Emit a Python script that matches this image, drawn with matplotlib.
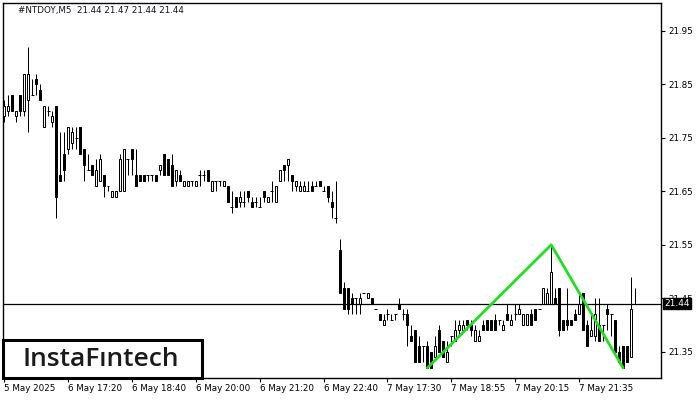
import matplotlib
matplotlib.use("Agg")
import matplotlib.pyplot as plt
from matplotlib.patches import Rectangle

opens = [21.79,21.80,21.83,21.79,21.83,21.80,21.82,21.83,21.86,21.84,21.77,21.80,21.78,21.81,
         21.68,21.72,21.73,21.74,21.75,21.77,21.73,21.69,21.70,21.66,21.67,21.68,21.66,21.64,21.64,
         21.65,21.65,21.71,21.73,21.68,21.68,21.68,21.68,21.68,21.68,21.69,21.72,21.71,21.70,21.67,
         21.68,21.66,21.66,21.67,21.66,21.68,21.68,21.69,21.65,21.67,21.67,21.66,21.66,21.62,21.64,
         21.63,21.63,21.65,21.63,21.63,21.62,21.65,21.63,21.65,21.63,21.67,21.70,21.70,21.68,21.66,
         21.65,21.65,21.65,21.66,21.66,21.67,21.65,21.66,21.63,21.60,
         21.54,21.47,21.47,21.45,21.45,21.44,21.46,21.45,21.45,21.43,21.42,21.40,21.42,21.41,21.42,
         21.44,21.42,21.42,21.38,21.39,21.36,21.36,21.36,21.35,21.34,21.39,21.37,21.33,21.38,21.37,
         21.39,21.39,21.41,21.40,21.37,21.37,21.40,21.41,21.41,21.41,21.41,21.39,21.42,21.40,21.42,
         21.42,21.40,21.40,21.42,21.43,21.43,21.44,21.44,21.44,21.45,21.47,21.41,21.41,21.41,21.42,
         21.42,21.46,21.40,21.38,21.38,21.40,21.40,21.43,21.42,21.41,21.35,21.36,21.36,21.34,21.44]
highs = [21.82,21.83,21.83,21.80,21.83,21.87,21.92,21.86,21.87,21.85,21.81,21.81,21.80,21.81,
         21.76,21.76,21.77,21.77,21.77,21.77,21.73,21.72,21.70,21.71,21.72,21.68,21.66,21.65,21.65,
         21.72,21.73,21.71,21.73,21.73,21.68,21.68,21.68,21.68,21.68,21.70,21.72,21.71,21.72,21.69,
         21.69,21.67,21.67,21.67,21.67,21.69,21.69,21.69,21.67,21.67,21.67,21.67,21.66,21.65,21.64,
         21.65,21.65,21.65,21.64,21.64,21.64,21.65,21.64,21.67,21.66,21.69,21.70,21.71,21.68,21.67,
         21.67,21.67,21.67,21.67,21.67,21.67,21.66,21.66,21.65,21.67,
         21.56,21.48,21.47,21.46,21.45,21.46,21.46,21.46,21.45,21.43,21.42,21.42,21.43,21.42,21.42,
         21.45,21.43,21.43,21.40,21.39,21.38,21.36,21.37,21.35,21.38,21.40,21.37,21.37,21.38,21.41,
         21.41,21.41,21.41,21.41,21.40,21.39,21.41,21.41,21.41,21.42,21.41,21.41,21.44,21.42,21.44,
         21.44,21.42,21.42,21.43,21.43,21.43,21.47,21.47,21.55,21.47,21.47,21.41,21.47,21.41,21.43,
         21.46,21.46,21.41,21.42,21.45,21.45,21.40,21.44,21.42,21.41,21.36,21.36,21.36,21.49,21.47]
lows = [21.78,21.79,21.80,21.78,21.79,21.79,21.76,21.83,21.83,21.82,21.77,21.79,21.77,21.60,
        21.67,21.67,21.72,21.73,21.73,21.72,21.67,21.69,21.68,21.66,21.67,21.64,21.65,21.64,21.64,
        21.65,21.65,21.68,21.68,21.66,21.67,21.67,21.67,21.67,21.67,21.68,21.68,21.68,21.66,21.66,
        21.67,21.66,21.66,21.66,21.66,21.66,21.67,21.67,21.65,21.65,21.66,21.66,21.63,21.61,21.62,
        21.62,21.62,21.63,21.62,21.62,21.62,21.63,21.63,21.63,21.63,21.67,21.67,21.67,21.65,21.65,
        21.65,21.65,21.65,21.65,21.66,21.66,21.65,21.63,21.60,21.59,
        21.46,21.43,21.42,21.42,21.42,21.42,21.46,21.45,21.44,21.43,21.41,21.40,21.41,21.41,21.41,
        21.43,21.41,21.36,21.37,21.33,21.33,21.33,21.32,21.32,21.34,21.35,21.34,21.33,21.36,21.37,
        21.38,21.39,21.39,21.38,21.37,21.37,21.39,21.39,21.39,21.39,21.40,21.39,21.41,21.40,21.41,
        21.42,21.40,21.40,21.40,21.41,21.43,21.44,21.44,21.44,21.44,21.38,21.39,21.39,21.40,21.41,
        21.42,21.39,21.36,21.38,21.37,21.37,21.37,21.39,21.38,21.35,21.33,21.32,21.33,21.34,21.44]
closes = [21.81,21.81,21.80,21.80,21.80,21.87,21.87,21.83,21.85,21.82,21.81,21.80,21.79,21.64,
          21.67,21.69,21.77,21.76,21.75,21.72,21.70,21.69,21.68,21.69,21.71,21.66,21.66,21.65,21.65,
          21.71,21.73,21.71,21.71,21.66,21.67,21.67,21.68,21.68,21.67,21.70,21.68,21.68,21.66,21.69,
          21.67,21.67,21.67,21.67,21.67,21.68,21.68,21.67,21.67,21.67,21.67,21.67,21.63,21.62,21.62,
          21.64,21.63,21.64,21.62,21.63,21.62,21.64,21.64,21.65,21.66,21.69,21.69,21.71,21.67,21.67,
          21.66,21.66,21.65,21.65,21.66,21.66,21.65,21.64,21.62,21.60,
          21.46,21.43,21.43,21.44,21.45,21.45,21.46,21.46,21.44,21.43,21.41,21.41,21.42,21.41,21.42,
          21.43,21.42,21.40,21.37,21.33,21.33,21.36,21.32,21.32,21.36,21.35,21.34,21.35,21.38,21.39,
          21.40,21.40,21.40,21.39,21.39,21.38,21.39,21.39,21.39,21.39,21.41,21.40,21.41,21.41,21.42,
          21.43,21.42,21.42,21.40,21.41,21.43,21.47,21.46,21.50,21.44,21.39,21.39,21.40,21.40,21.41,
          21.44,21.39,21.36,21.39,21.42,21.37,21.40,21.42,21.42,21.35,21.33,21.32,21.33,21.43,21.44]

tick_pos = [0, 16, 32, 48, 64, 80, 96, 112, 128, 144]
tick_labels = ["5 May 2025", "6 May 17:20", "6 May 18:40", "6 May 20:00", "6 May 21:20",
               "6 May 22:40", "7 May 17:30", "7 May 18:55", "7 May 20:15", "7 May 21:35"]
price_ticks = [21.35, 21.45, 21.55, 21.65, 21.75, 21.85, 21.95]
pattern_x = [106, 137, 155]
pattern_y = [21.32, 21.55, 21.32]
last_price = 21.44
title = "#NTDOY,M5  21.44 21.47 21.44 21.44"

fig = plt.figure(figsize=(7, 4), dpi=100)
ax = fig.add_axes([3/700, 1-378/400, 658/700, 375/400])
ax.set_xlim(-0.3, 164.5)
ax.set_ylim(21.301, 22.002)

lw = 0.72
bw = 0.5
for i, (o, h, l, c) in enumerate(zip(opens, highs, lows, closes)):
    ax.vlines(i, l, h, color="black", linewidth=lw, zorder=2)
    if abs(c - o) < 1e-9:
        ax.hlines(o, i - bw/2 - 0.12, i + bw/2 + 0.12, color="black", linewidth=lw, zorder=3)
    else:
        up = c > o
        ax.add_patch(Rectangle((i - bw/2, min(o, c)), bw, abs(c - o),
                               facecolor="white" if up else "black",
                               edgecolor="black", linewidth=lw, zorder=3))

ax.axhline(last_price, color="black", linewidth=0.9, zorder=4)
ax.plot(pattern_x, pattern_y, color="#1fe01f", linewidth=2.0, zorder=5, solid_capstyle="round")

ax.yaxis.tick_right()
ax.set_yticks(price_ticks)
ax.set_yticklabels([f"{v:.2f}" for v in price_ticks], fontsize=6.3, family="DejaVu Sans")
ax.tick_params(axis="y", direction="out", length=3, width=0.8, pad=2)
ax.set_xticks(tick_pos)
ax.set_xticklabels(tick_labels, fontsize=6.3, family="DejaVu Sans", ha="left")
ax.tick_params(axis="x", direction="out", length=3, width=0.8, pad=1.5)
for lab in ax.get_xticklabels():
    lab.set_horizontalalignment("left")
for s in ax.spines.values():
    s.set_linewidth(1.0)
    s.set_color("black")

fig.text(18/700, 1-11/400, title, fontsize=6.3, family="DejaVu Sans", va="center", ha="left",
         color="#111122")

fig.text(664/700, 1-303.5/400, "21.44", fontsize=6.5, family="DejaVu Sans", color="white",
         va="center", ha="left",
         bbox=dict(boxstyle="square,pad=0.15", facecolor="black", edgecolor="black"), zorder=10)

# logo box
logo = Rectangle((3/700, 1-378/400), 199/700, 38/400, transform=fig.transFigure,
                 facecolor="white", edgecolor="black", linewidth=2.2, zorder=8)
fig.patches.append(logo)
fig.text(101/700, 1-359/400, "InstaF\u0131ntech", fontsize=19, family="Open Sans",
         weight="semibold", color="#1a1a1a", va="center", ha="center", zorder=9)

fig.savefig("out.png", dpi=100)
